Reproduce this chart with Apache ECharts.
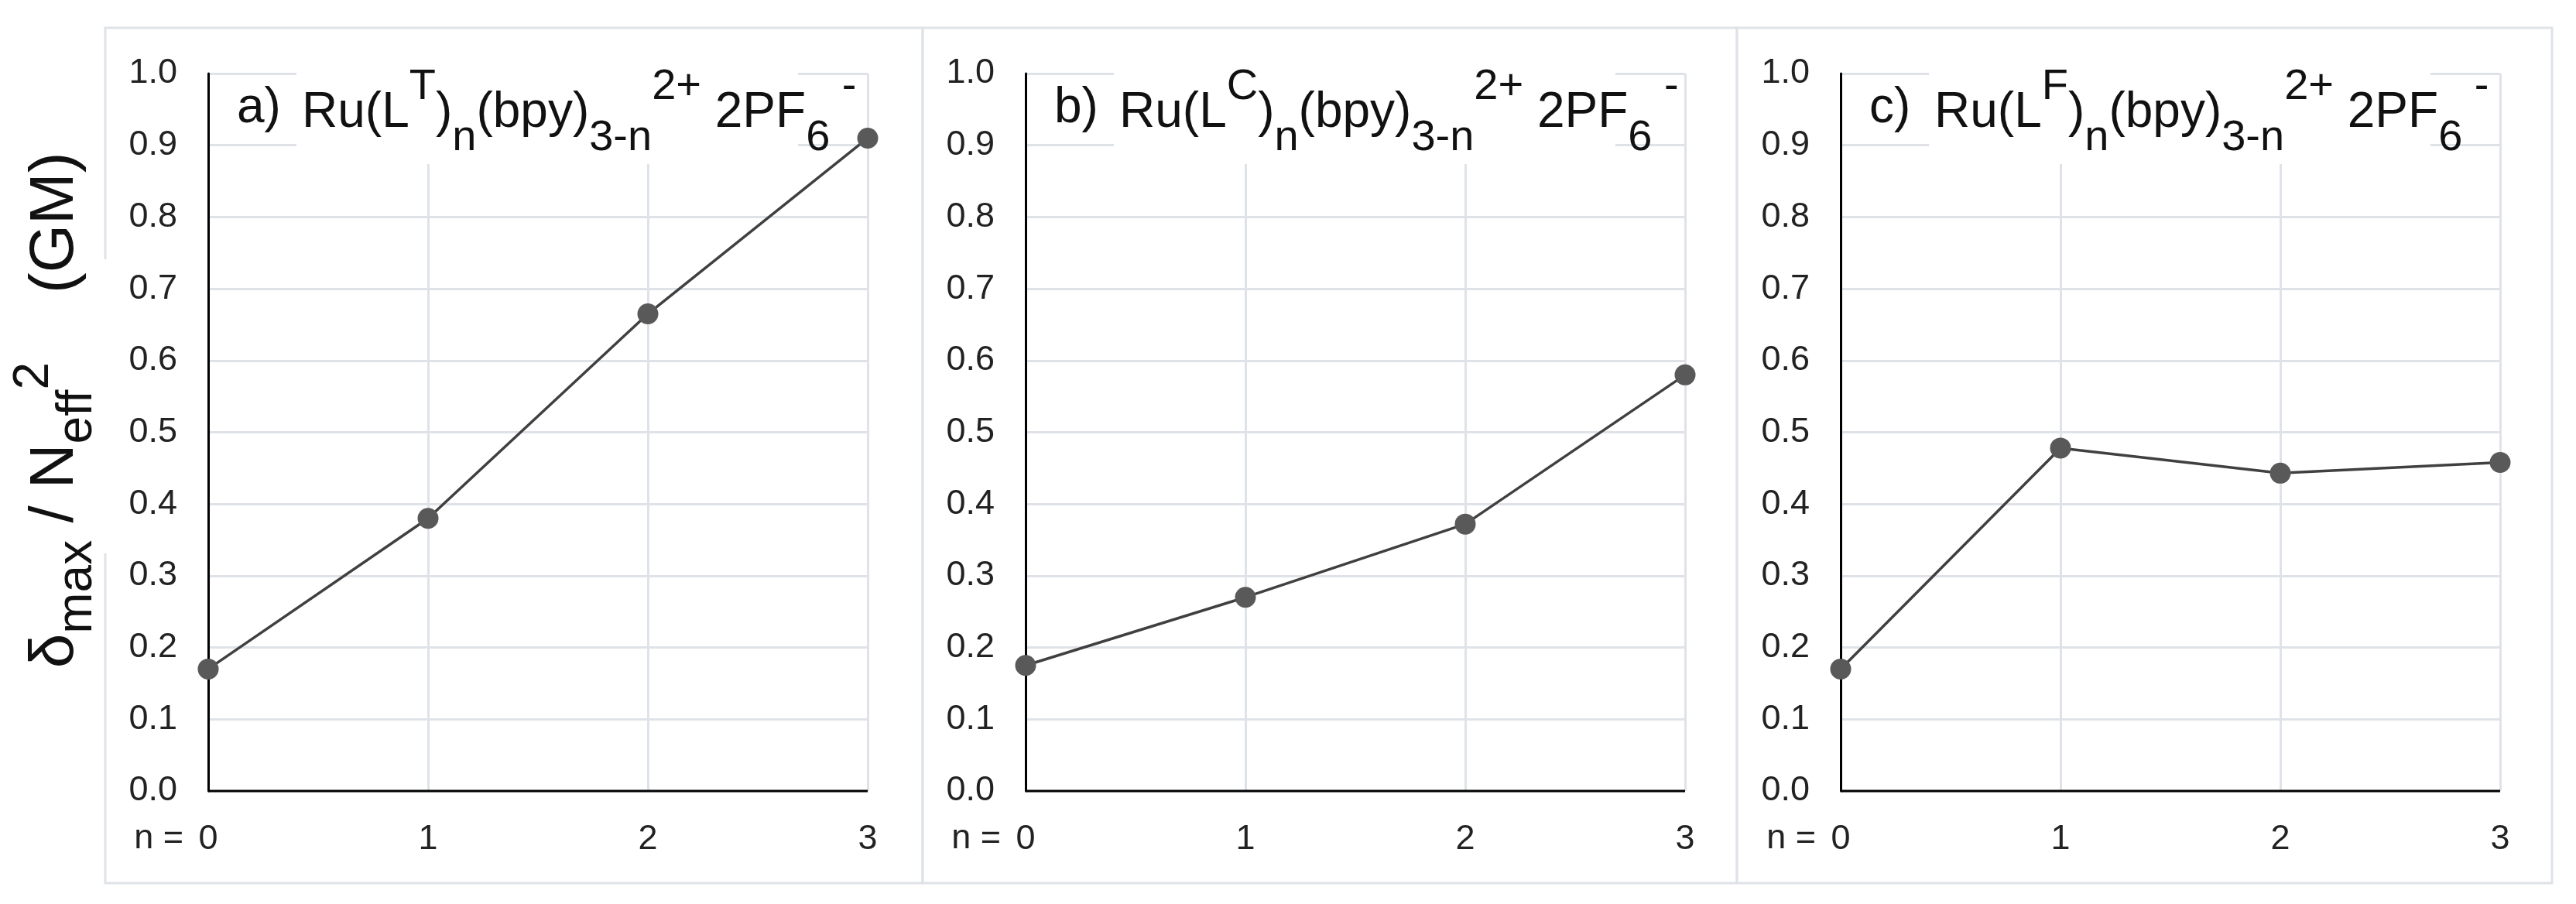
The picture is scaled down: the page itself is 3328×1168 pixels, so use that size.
<!DOCTYPE html>
<html>
<head>
<meta charset="utf-8">
<script src="https://cdn.jsdelivr.net/npm/echarts@6/dist/echarts.min.js"></script>
<style>
  html, body { margin: 0; padding: 0; background: #fff; }
  #chart { width: 3328px; height: 1168px; }
</style>
</head>
<body>
<div id="chart"></div>
<script>
(function () {
    'use strict';

    // data
    var nValues = [0, 1, 2, 3];
    var seriesT = [0.17, 0.38, 0.665, 0.91];
    var seriesC = [0.175, 0.27, 0.372, 0.58];
    var seriesF = [0.17, 0.478, 0.443, 0.458];
    var panelLetters = ['a)', 'b)', 'c)'];
    var ligandSup = ['T', 'C', 'F'];

    var allSeries = [seriesT, seriesC, seriesF];
    var gridLefts = [269, 1325, 2378];
    var gridWidth = 852;
    var gridTop = 95;
    var gridBottom = 1022;
    var boxes = [[136, 1192], [1192, 2244], [2244, 3297]];
    var font = 'Arial, "Liberation Sans", sans-serif';

    var chart = echarts.init(document.getElementById('chart'));

    var grids = [], xAxes = [], yAxes = [], series = [], graphics = [];

    // panel boxes
    boxes.forEach(function (b) {
        graphics.push({
            type: 'rect', z: 0, silent: true,
            shape: { x: b[0], y: 36, width: b[1] - b[0], height: 1105 },
            style: { fill: 'none', stroke: '#dfe3e8', lineWidth: 3 }
        });
    });

    allSeries.forEach(function (vals, i) {
        var left = gridLefts[i];
        grids.push({ left: left, width: gridWidth, top: gridTop, height: gridBottom - gridTop });
        xAxes.push({
            type: 'value', gridIndex: i, min: 0, max: 3, interval: 1,
            axisLine: { show: false },
            axisTick: { show: false },
            axisLabel: { fontSize: 45, color: '#222', margin: 40, fontFamily: font },
            splitLine: { show: true, lineStyle: { color: '#dfe3e8', width: 3 } }
        });
        yAxes.push({
            type: 'value', gridIndex: i, min: 0, max: 1, interval: 0.1,
            axisLine: { show: true, lineStyle: { color: '#000', width: 3 } },
            axisTick: { show: false },
            axisLabel: {
                fontSize: 45, color: '#222', margin: 40, fontFamily: font,
                formatter: function (v) { return v.toFixed(1); }
            },
            splitLine: { show: true, lineStyle: { color: '#dfe3e8', width: 3 } }
        });
        series.push({
            type: 'line', xAxisIndex: i, yAxisIndex: i,
            data: nValues.map(function (n, k) { return [n, vals[k]]; }),
            symbol: 'circle', symbolSize: 27,
            lineStyle: { color: '#404040', width: 3.5 },
            itemStyle: { color: '#595959' },
            z: 5
        });
        // x axis line on top of grid
        graphics.push({
            type: 'line', z: 10, silent: true,
            shape: { x1: left, y1: gridBottom, x2: left + gridWidth, y2: gridBottom },
            style: { stroke: '#000', lineWidth: 3 }
        });
        // title backdrop
        graphics.push({
            type: 'rect', z: 8, silent: true,
            shape: { x: left + 114, y: 86, width: 648, height: 126 },
            style: { fill: '#fff' }
        });
        graphics.push({
            type: 'text', z: 12, silent: true,
            x: left + 37, y: 140,
            style: { text: panelLetters[i], font: '64px ' + font, fill: '#111', verticalAlign: 'middle' }
        });
        graphics.push({
            type: 'text', z: 12, silent: true,
            x: left + 121, y: 146,
            style: {
                text: 'Ru(L{sup|' + ligandSup[i] + '}){sub|n}(bpy){sub|3-n}{sup|2+} 2PF{sub|6}{sup| -}',
                font: '64px ' + font, fill: '#111', verticalAlign: 'middle',
                lineHeight: 122,
                rich: {
                    sup: { font: '56px ' + font, fill: '#111', verticalAlign: 'top', lineHeight: 122 },
                    sub: { font: '56px ' + font, fill: '#111', verticalAlign: 'bottom', lineHeight: 122 }
                }
            }
        });
        // "n =" before the first x label
        graphics.push({
            type: 'text', z: 12, silent: true,
            x: left - 32, y: gridBottom + 62,
            style: { text: 'n =', font: '45px ' + font, fill: '#222', align: 'right', verticalAlign: 'middle' }
        });
    });

    // gap in box edge behind y axis title
    graphics.push({
        type: 'rect', z: 1, silent: true,
        shape: { x: 128, y: 335, width: 16, height: 380 },
        style: { fill: '#fff' }
    });
    graphics.push({
        type: 'text', z: 12, silent: true,
        x: 72, y: 530, rotation: Math.PI / 2,
        style: {
            text: '\u03b4{sub|max} / N{sub|eff}{sup|2}    (GM)',
            font: '80px ' + font, fill: '#111', align: 'center', verticalAlign: 'middle',
            lineHeight: 120,
            rich: {
                sub: { font: '64px ' + font, fill: '#111', verticalAlign: 'bottom', lineHeight: 120 },
                sup: { font: '64px ' + font, fill: '#111', verticalAlign: 'top', lineHeight: 120 }
            }
        }
    });

    chart.setOption({
        backgroundColor: '#fff',
        animation: false,
        grid: grids,
        xAxis: xAxes,
        yAxis: yAxes,
        series: series,
        graphic: graphics
    });
})();
</script>
</body>
</html>
